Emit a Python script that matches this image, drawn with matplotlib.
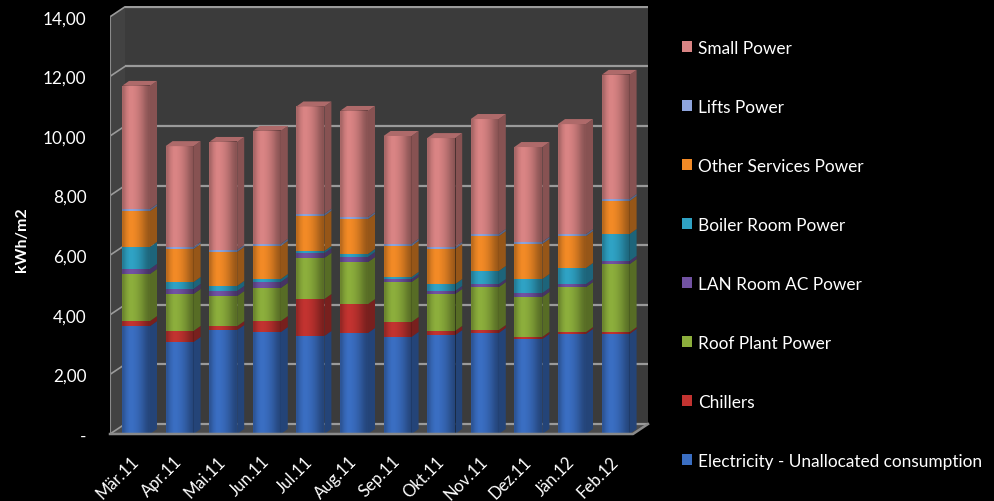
import matplotlib
matplotlib.use("Agg")
import matplotlib.pyplot as plt
import numpy as np
from matplotlib.patches import Polygon, Patch
from matplotlib import colors as mcolors

months = ["Mär.11", "Apr.11", "Mai.11", "Jun.11", "Jul.11", "Aug.11",
          "Sep.11", "Okt.11", "Nov.11", "Dez.11", "Jän.12", "Feb.12"]

# kWh/m2 per month, bottom of the stack first
electricity = [3.62, 3.09, 3.49, 3.42, 3.29, 3.39, 3.26, 3.32, 3.39, 3.19, 3.36, 3.36]
chillers    = [0.17, 0.37, 0.13, 0.37, 1.24, 0.97, 0.50, 0.14, 0.10, 0.07, 0.06, 0.06]
roof_plant  = [1.58, 1.24, 1.01, 1.11, 1.38, 1.41, 1.34, 1.24, 1.44, 1.34, 1.51, 2.28]
lan_room    = [0.17, 0.17, 0.17, 0.20, 0.16, 0.17, 0.10, 0.10, 0.10, 0.13, 0.10, 0.11]
boiler_room = [0.74, 0.23, 0.17, 0.10, 0.07, 0.10, 0.07, 0.23, 0.44, 0.47, 0.54, 0.90]
other_serv  = [1.20, 1.11, 1.14, 1.11, 1.18, 1.17, 1.04, 1.18, 1.17, 1.18, 1.07, 1.11]
lifts       = [0.07, 0.07, 0.07, 0.07, 0.07, 0.07, 0.07, 0.07, 0.07, 0.07, 0.07, 0.07]
small_power = [4.13, 3.38, 3.62, 3.79, 3.60, 3.56, 3.62, 3.65, 3.86, 3.18, 3.69, 4.16]

series = [
    ("Electricity - Unallocated consumption", electricity, "#3a6ec2"),
    ("Chillers",               chillers,    "#c23330"),
    ("Roof Plant Power",       roof_plant,  "#8cae3c"),
    ("LAN Room AC Power",      lan_room,    "#7152a2"),
    ("Boiler Room Power",      boiler_room, "#2fa2c4"),
    ("Other Services Power",   other_serv,  "#f28a26"),
    ("Lifts Power",            lifts,       "#8ea4dc"),
    ("Small Power",            small_power, "#d98484"),
]

yticks = [0, 2, 4, 6, 8, 10, 12, 14]
ytick_labels = ["-", "2,00", "4,00", "6,00", "8,00", "10,00", "12,00", "14,00"]

FONT = "Lato"
W, H = 995, 502

# pixel geometry of the pseudo-3D box
PX_X0, PX_X1 = 110, 648        # axes left/right in px
PX_Y0, PX_Y1 = 435, 7          # y=0 and top of back wall in px
PX_PER_UNIT_Y = 29.8
PX_PER_CAT = 43.6
FIRST_CENTER = 136

ymax = (PX_Y0 - PX_Y1) / PX_PER_UNIT_Y
xmin = (PX_X0 - FIRST_CENTER) / PX_PER_CAT
xmax = xmin + (PX_X1 - PX_X0) / PX_PER_CAT
front_right = xmin + (633 - PX_X0) / PX_PER_CAT
wdx, wdy = 15 / PX_PER_CAT, 10 / PX_PER_UNIT_Y     # wall depth
bdx, bdy = 7 / PX_PER_CAT, 5 / PX_PER_UNIT_Y       # bar depth
bar_w = 28 / PX_PER_CAT


def shade(c, f):
    r, g, b = mcolors.to_rgb(c)
    if f < 1:
        return (r * f, g * f, b * f)
    return tuple(v + (1 - v) * (f - 1) for v in (r, g, b))


fig = plt.figure(figsize=(W / 100, H / 100), dpi=100, facecolor="black")
ax = fig.add_axes([PX_X0 / W, (H - PX_Y0) / H,
                   (PX_X1 - PX_X0) / W, (PX_Y0 - PX_Y1) / H])
ax.set_facecolor("black")
for s in ax.spines.values():
    s.set_visible(False)

wall = "#3b3b3b"
grid_c = "#9a9a9a"
bx0 = xmin + wdx
# back wall, left wall, floor
ax.add_patch(Polygon([(bx0, wdy), (xmax, wdy), (xmax, 14 + wdy), (bx0, 14 + wdy)],
                     closed=True, fc=wall, ec="none", zorder=0))
ax.add_patch(Polygon([(xmin, 0), (bx0, wdy), (bx0, 14 + wdy), (xmin, 14)],
                     closed=True, fc="#424242", ec="none", zorder=0))
ax.add_patch(Polygon([(xmin, 0), (front_right, 0), (xmax, wdy), (bx0, wdy)],
                     closed=True, fc="#4a4a4a", ec="none", zorder=0))
for v in yticks:
    ax.plot([bx0, xmax], [v + wdy, v + wdy], color=grid_c, lw=1.6, zorder=1,
            solid_capstyle="butt")
    ax.plot([xmin, bx0], [v, v + wdy], color=grid_c, lw=1.2, zorder=1)
ax.plot([xmin, xmin], [0, 14], color="#8a8a8a", lw=1.5, zorder=1)
ax.plot([xmin, front_right, xmax], [0, 0, wdy], color="#8a8a8a", lw=1.8,
        zorder=6, clip_on=False)

x = np.arange(len(months))
bottom = np.zeros(len(months))
for label, vals, col in series:
    vals = np.array(vals)
    ax.bar(x, vals, bar_w, bottom=bottom, color=col, zorder=3, lw=0)
    for xi, b0, v in zip(x, bottom, vals):
        xr = xi + bar_w / 2
        ax.add_patch(Polygon([(xr, b0), (xr + bdx, b0 + bdy),
                              (xr + bdx, b0 + v + bdy), (xr, b0 + v)],
                             closed=True, fc=shade(col, 0.62), ec="none", zorder=3))
    bottom = bottom + vals

# top faces of the stacks
top_col = series[-1][2]
for xi, t in zip(x, bottom):
    xl, xr = xi - bar_w / 2, xi + bar_w / 2
    ax.add_patch(Polygon([(xl, t), (xl + bdx, t + bdy), (xr + bdx, t + bdy), (xr, t)],
                         closed=True, fc=shade(top_col, 0.8), ec="none", zorder=4))

# soft cylinder-like shading across each front face
prof = np.array([0.22, 0.08, 0.0, 0.0, 0.04, 0.1, 0.18, 0.28, 0.36])
grad = np.zeros((1, len(prof), 4))
grad[0, :, 3] = prof
for xi, t in zip(x, bottom):
    ax.imshow(grad, extent=(xi - bar_w / 2, xi + bar_w / 2, 0, t),
              aspect="auto", interpolation="bilinear", zorder=4)
ax.set_xlim(xmin, xmax)
ax.set_ylim(0, ymax)

ax.set_yticks(yticks)
ax.set_yticklabels(ytick_labels)
ax.set_xticks(x)
ax.set_xticklabels(months, rotation=45, ha="right", va="center",
                   rotation_mode="anchor")
ax.tick_params(axis="both", length=0, colors="white", labelsize=12.3)
ax.tick_params(axis="x", labelsize=12)
ax.tick_params(axis="y", pad=17)
ax.tick_params(axis="x", pad=17.5)
for t in ax.get_xticklabels() + ax.get_yticklabels():
    t.set_fontfamily(FONT)

fig.text(22 / W, 1 - 240 / H, "kWh/m2", rotation=90, color="white",
         fontsize=11.5, fontweight="bold", family=FONT, ha="center", va="center")

handles = [Patch(facecolor=c, edgecolor="none", label=l) for l, _, c in series][::-1]
fig.legend(handles=handles, loc="upper left", bbox_to_anchor=(666 / W, 1 - 25 / H),
           frameon=False, labelcolor="white", handlelength=0.6, handleheight=0.6,
           handletextpad=0.35, labelspacing=2.5, prop={"family": FONT, "size": 12.4})

fig.savefig("out.png", dpi=100, facecolor="black")
